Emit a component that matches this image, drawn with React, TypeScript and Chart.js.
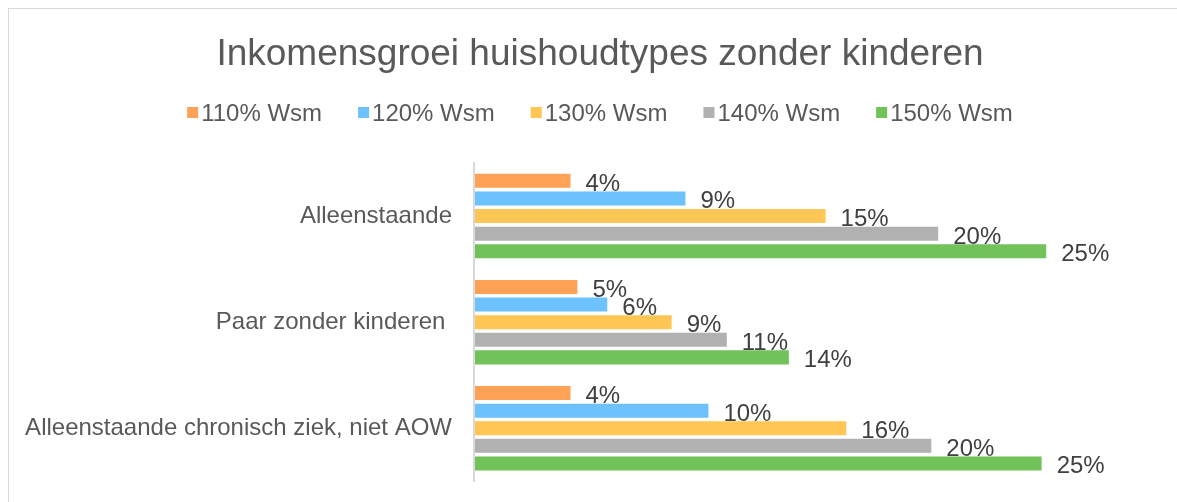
import { useEffect, useRef } from "react";
import { Chart, registerables } from "chart.js";

Chart.register(...registerables);

const FONT = "'Liberation Sans', Arial, sans-serif";

const chartTitle = "Inkomensgroei huishoudtypes zonder kinderen";
const categories = [
  "Alleenstaande",
  "Paar zonder kinderen ",
  "Alleenstaande chronisch ziek, niet AOW",
];
const seriesNames = ["110% Wsm", "120% Wsm", "130% Wsm", "140% Wsm", "150% Wsm"];
const wsm110 = [4.2, 4.5, 4.2];
const wsm120 = [9.2, 5.8, 10.2];
const wsm130 = [15.3, 8.6, 16.2];
const wsm140 = [20.2, 11.0, 19.9];
const wsm150 = [24.9, 13.7, 24.7];
const seriesValues = [wsm110, wsm120, wsm130, wsm140, wsm150];
const seriesColors = ["#FFA256", "#6DC1FC", "#FFC655", "#B1B1B1", "#71C259"];
const xAxisMin = 0;
const xAxisMax = 31.2;

const legendPlugin = {
  id: "customLegend",
  afterDraw(chart: any) {
    const ctx = chart.ctx;
    const ds = chart.data.datasets;
    ctx.save();
    ctx.font = `24px ${FONT}`;
    const box = 11;
    const gapText = 3;
    const gapItem = 36;
    const widths = ds.map((d: any) => ctx.measureText(d.label).width);
    const total =
      widths.reduce((a: number, w: number) => a + box + gapText + w, 0) +
      gapItem * (ds.length - 1);
    let x = chart.width / 2 - total / 2;
    ctx.textBaseline = "alphabetic";
    ctx.textAlign = "left";
    ds.forEach((d: any, i: number) => {
      ctx.fillStyle = d.backgroundColor;
      ctx.fillRect(x, 98, box, box);
      ctx.fillStyle = "#595959";
      ctx.fillText(d.label, x + box + gapText, 112);
      x += box + gapText + widths[i] + gapItem;
    });
    ctx.restore();
  },
};

const dataLabelPlugin = {
  id: "barValueLabels",
  afterDatasetsDraw(chart: any) {
    const ctx = chart.ctx;
    ctx.save();
    ctx.font = `24px ${FONT}`;
    ctx.fillStyle = "#404040";
    ctx.textAlign = "left";
    ctx.textBaseline = "alphabetic";
    chart.data.datasets.forEach((ds: any, di: number) => {
      const meta = chart.getDatasetMeta(di);
      meta.data.forEach((el: any, i: number) => {
        const v = ds.data[i];
        ctx.fillText(`${Math.round(v)}%`, el.x + 15, el.y + 10);
      });
    });
    ctx.restore();
  },
};

export default function App() {
  const canvasRef = useRef<HTMLCanvasElement | null>(null);

  useEffect(() => {
    if (!canvasRef.current) return;
    const chart = new Chart(canvasRef.current, {
      type: "bar",
      data: {
        labels: categories,
        datasets: seriesNames.map((name, i) => ({
          label: name,
          data: seriesValues[i],
          backgroundColor: seriesColors[i],
          borderWidth: 0,
          categoryPercentage: 0.83,
          barPercentage: 0.795,
        })),
      },
      options: {
        indexAxis: "y",
        animation: false,
        responsive: false,
        layout: { padding: { left: 0, right: 0, top: 0, bottom: 37.7 } },
        plugins: {
          legend: { display: false },
          tooltip: { enabled: false },
          title: {
            display: true,
            text: chartTitle,
            color: "#595959",
            font: { size: 37, weight: "normal", family: FONT },
            padding: { top: 24, bottom: 85.6 },
          },
        },
        scales: {
          x: { display: false, min: xAxisMin, max: xAxisMax },
          y: {
            grid: { display: false, drawTicks: false },
            border: { display: true, color: "#d9d9d9", width: 2, z: 1 },
            ticks: {
              color: "#595959",
              font: { size: 24, family: FONT },
              padding: 22,
            },
            afterFit(scale: any) {
              scale.width = 465;
            },
          },
        },
      },
      plugins: [legendPlugin, dataLabelPlugin],
    } as any);
    return () => chart.destroy();
  }, []);

  return (
    <div
      style={{
        position: "fixed",
        left: 8,
        top: 8,
        width: 1169,
        height: 494,
        overflow: "hidden",
        background: "#fff",
      }}
    >
      <div
        style={{
          width: 1200,
          height: 530,
          border: "1px solid #d9d9d9",
          boxSizing: "border-box",
          background: "#fff",
        }}
      >
        <canvas
          ref={canvasRef}
          width={1182}
          height={510}
          style={{ display: "block", width: 1182, height: 510 }}
        />
      </div>
    </div>
  );
}
